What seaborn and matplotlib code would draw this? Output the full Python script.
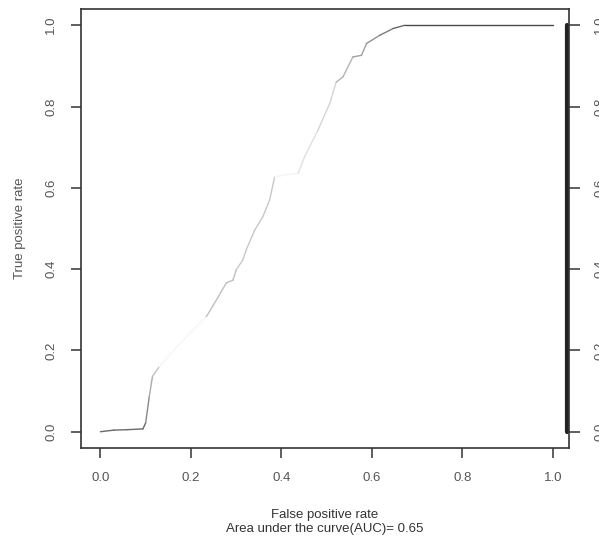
import numpy as np
import pandas as pd
import matplotlib
matplotlib.use("Agg")
import matplotlib.pyplot as plt
import seaborn as sns

# ROC curve points
fpr = [0.0, 0.03, 0.06, 0.094, 0.10, 0.108, 0.115, 0.13, 0.17, 0.20,
       0.234, 0.259, 0.278, 0.293, 0.300, 0.315, 0.322, 0.341, 0.359, 0.374,
       0.385, 0.41, 0.437, 0.451, 0.48, 0.507, 0.521, 0.536, 0.558, 0.577,
       0.588, 0.617, 0.647, 0.673, 1.0]
tpr = [0.0, 0.004, 0.005, 0.007, 0.022, 0.087, 0.136, 0.16, 0.21, 0.245,
       0.283, 0.329, 0.366, 0.373, 0.398, 0.423, 0.447, 0.496, 0.529, 0.570,
       0.627, 0.632, 0.636, 0.676, 0.74, 0.808, 0.86, 0.873, 0.922, 0.926,
       0.955, 0.975, 0.992, 1.0, 1.0]

# colour key (cutoff scale on the right)
key_values = [0.0, 1.0]
ticks = [0.0, 0.2, 0.4, 0.6, 0.8, 1.0]
tick_labels = ["0.0", "0.2", "0.4", "0.6", "0.8", "1.0"]
auc = 0.65

# grey shade for each segment of the curve (colorized by cutoff)
shades = (["#6a6a6a"] * 4 + ["#888888", "#aaaaaa", "#c4c4c4"] + ["#f6f6f6"] * 3
          + ["#c0c0c0"] * 4 + ["#c8c8c8"] * 6 + ["#f4f4f4"] * 2
          + ["#e0e0e0"] * 2 + ["#d4d4d4"] * 2
          + ["#b4b4b4"] * 2 + ["#a0a0a0"] * 2
          + ["#909090", "#7a7a7a", "#666666", "#4a4a4a"])

rows = []
for i in range(len(fpr) - 1):
    for j in (i, i + 1):
        rows.append({"seg": i, "fpr": fpr[j], "tpr": tpr[j]})
segs = pd.DataFrame(rows)

sns.set_style("white")
plt.rcParams["font.family"] = ["Liberation Sans", "DejaVu Sans"]

fig = plt.figure(figsize=(5.99, 5.44), dpi=100)
ax = fig.add_axes([0.1352, 0.1765, 0.815, 0.807])

sns.lineplot(data=segs, x="fpr", y="tpr", hue="seg",
             palette={i: c for i, c in enumerate(shades)},
             sort=False, estimator=None, legend=False, linewidth=1.0, ax=ax)

# colour key bar
key_x = 1.031
sns.lineplot(x=[key_x] * len(key_values), y=key_values, color="#222222",
             linewidth=3, sort=False, estimator=None, ax=ax)

ax.set_xlim(-0.043, 1.036)
ax.set_ylim(-0.04, 1.04)
for s in ax.spines.values():
    s.set_color("#333333")
    s.set_linewidth(1.2)

ax.set_xticks(ticks)
ax.set_xticklabels(tick_labels)
ax.set_yticks(ticks)
ax.set_yticklabels(tick_labels, rotation=90, va="center")
ax.tick_params(axis="both", direction="out", length=7, width=1.1,
               color="#333333", labelcolor="#555555", labelsize=9.5, pad=10,
               left=True, bottom=True)

ax.set_xlabel("False positive rate\nArea under the curve(AUC)= %.2f" % auc,
              fontsize=9.5, color="#333333", labelpad=18, linespacing=1.25)
ax.set_ylabel("True positive rate", fontsize=9.5, color="#555555", labelpad=14)

ax2 = ax.twinx()
ax2.set_ylim(ax.get_ylim())
ax2.set_yticks(ticks)
ax2.set_yticklabels(tick_labels, rotation=90, va="center")
ax2.tick_params(axis="y", direction="out", length=8, width=1.1, color="#333333",
                labelcolor="#555555", labelsize=9.5, pad=10, right=True)
for s in ax2.spines.values():
    s.set_visible(False)

fig.savefig("out.png", dpi=100)
